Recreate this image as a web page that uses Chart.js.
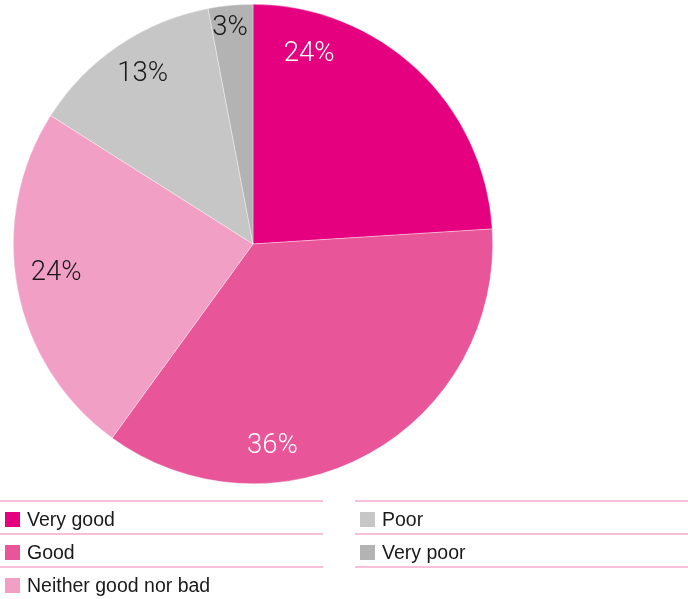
<!DOCTYPE html>
<html>
<head>
<meta charset="utf-8">
<script src="https://cdn.jsdelivr.net/npm/chart.js@4/dist/chart.umd.min.js"></script>
<style>
  html, body { margin: 0; padding: 0; background: #fff; }
  #wrap { position: relative; width: 688px; height: 599px; }
  #chart { position: absolute; left: 0; top: 0; }
  .legend-col { position: absolute; top: 500px; border-top: 2px solid #f7bfd9; }
  .legend-row { height: 31px; border-bottom: 2px solid #f7bfd9; position: relative;
    font-family: "Liberation Sans", Arial, sans-serif; font-size: 19.5px; color: #1a1a1a; }
  .legend-row.last { border-bottom: none; }
  .legend-row .sw { position: absolute; left: 5px; top: 10px; width: 15px; height: 15px; }
  .legend-row .tx { position: absolute; left: 27px; top: 6px; line-height: 22px; white-space: nowrap; }
</style>
</head>
<body>
<div id="wrap">
  <canvas id="chart" width="688" height="599"></canvas>
  <div class="legend-col" id="legLeft" style="left:0; width:323px;"></div>
  <div class="legend-col" id="legRight" style="left:355px; width:333px;"></div>
</div>
<script>
// Survey ratings, share of respondents (%)
const categories = ["Very good", "Good", "Neither good nor bad", "Poor", "Very poor"];
const shares = [24, 36, 24, 13, 3];
const sliceColors = ["#e4007e", "#e85598", "#f29fc5", "#c6c6c6", "#b3b3b3"];
const labelColors = ["#ffffff", "#ffffff", "#1a1a1a", "#1a1a1a", "#1a1a1a"];

// Where each percentage sits inside its slice: fraction along the arc, fraction of radius
const labelPlacement = [
  { along: 0.19, radius: 0.83 },
  { along: 0.68, radius: 0.845 },
  { along: 0.53, radius: 0.83 },
  { along: 0.53, radius: 0.85 },
  { along: 0.44, radius: 0.91 }
];

const sliceLabels = {
  id: 'sliceLabels',
  afterDatasetsDraw(chart) {
    const ctx = chart.ctx;
    const meta = chart.getDatasetMeta(0);
    ctx.save();
    ctx.font = '300 27.5px Roboto, "Liberation Sans", sans-serif';
    ctx.textAlign = 'center';
    ctx.textBaseline = 'middle';
    meta.data.forEach((arc, i) => {
      const p = labelPlacement[i];
      const a = arc.startAngle + (arc.endAngle - arc.startAngle) * p.along;
      const r = arc.outerRadius * p.radius;
      const x = arc.x + Math.cos(a) * r;
      const y = arc.y + Math.sin(a) * r;
      ctx.fillStyle = labelColors[i];
      ctx.fillText(shares[i] + '%', x, y + 1);
    });
    ctx.restore();
  }
};

new Chart(document.getElementById('chart'), {
  type: 'pie',
  data: {
    labels: categories,
    datasets: [{
      data: shares,
      backgroundColor: sliceColors,
      borderColor: 'rgba(255,255,255,0.6)',
      borderWidth: 0.6
    }]
  },
  options: {
    responsive: false,
    animation: false,
    layout: { padding: { left: 13, top: 4, right: 195, bottom: 115 } },
    plugins: {
      legend: { display: false },
      tooltip: { enabled: false }
    }
  },
  plugins: [sliceLabels]
});

// Two-column legend built from the same categories and colours
function addRow(container, i, last) {
  const row = document.createElement('div');
  row.className = 'legend-row' + (last ? ' last' : '');
  const sw = document.createElement('span');
  sw.className = 'sw';
  sw.style.background = sliceColors[i];
  const tx = document.createElement('span');
  tx.className = 'tx';
  tx.textContent = categories[i];
  row.appendChild(sw);
  row.appendChild(tx);
  container.appendChild(row);
}
const left = document.getElementById('legLeft');
const right = document.getElementById('legRight');
addRow(left, 0, false);
addRow(left, 1, false);
addRow(left, 2, true);
addRow(right, 3, false);
addRow(right, 4, false);
</script>
</body>
</html>
